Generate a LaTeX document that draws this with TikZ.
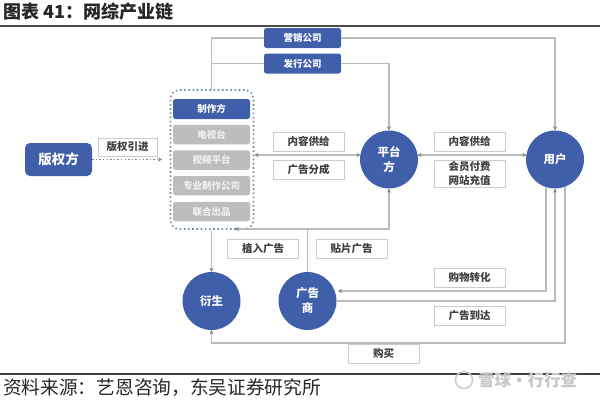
\documentclass[tikz,border=0pt]{standalone}
\usepackage{fontspec}
\setmainfont{Noto Sans CJK SC}
\usetikzlibrary{arrows.meta}
\definecolor{bluefill}{HTML}{3F5FAA}
\definecolor{greyfill}{HTML}{BDBDBD}
\definecolor{linegrey}{HTML}{BBBBBB}
\definecolor{labeledge}{HTML}{CCCCCC}
\definecolor{dotblue}{HTML}{6F8FA8}
\definecolor{ink}{HTML}{404040}
\tikzset{
  box/.style={rectangle,minimum width=#1,inner sep=0pt,rounded corners=2.5pt,font=\fontsize{9.5}{11}\selectfont\bfseries,text=white},
  bluebox/.style={box=77pt,fill=bluefill,minimum height=20pt},
  greybox/.style={box=77pt,fill=greyfill,minimum height=19.5pt,text=white!94!black},
  roundnode/.style={circle,fill=bluefill,minimum size=58pt,inner sep=0pt,text=white,align=center,font=\fontsize{11.5}{15}\selectfont\bfseries},
  lab/.style={rectangle,draw=labeledge,line width=0.9pt,fill=white,minimum width=71pt,minimum height=19pt,inner sep=0pt,align=center,text=ink,font=\fontsize{10.5}{13.3}\selectfont\bfseries},
  conn/.style={draw=linegrey,line width=1.3pt},
  tip/.style={-{Stealth[length=4pt,width=4pt,color=gray]}},
  biptip/.style={{Stealth[length=4pt,width=4pt,color=gray]}-{Stealth[length=4pt,width=4pt,color=gray]}},
  caption/.style={inner sep=0pt,anchor=west,text=black!85}
}
\begin{document}
\begin{tikzpicture}[x=1pt,y=-1pt]
\useasboundingbox (0,0) rectangle (600,400);
% rules
\coordinate (tl) at (0,26); \coordinate (tr) at (600,26);
\coordinate (bl) at (0,374); \coordinate (br) at (600,374);
\draw[line width=1.3pt,black!70] (tl) -- (tr);
\draw[line width=1.1pt,black!75] (bl) -- (br);
\node[caption,font=\fontsize{18}{20}\selectfont\bfseries] (title) at (3,12) {图表 41：网综产业链};
\node[caption,font=\fontsize{18.7}{20}\selectfont] (source) at (3,388) {资料来源：艺恩咨询，东吴证券研究所};
\node[circle,draw=black!20,line width=1.5pt,minimum size=17pt,inner sep=0pt] (logo) at (464,380) {};
\node[caption,text=black!22,font=\fontsize{16.5}{18}\selectfont\bfseries] (mark) at (478,380) {雪球·行行查};
% container
\node[rectangle,draw=dotblue,line width=1.6pt,dash pattern=on 1.6pt off 2.6pt,rounded corners=9pt,minimum width=83pt,minimum height=139pt,inner sep=0pt] (group) at (212,159.5) {};
\node[bluebox] (maker) at (211.5,109) {制作方};
\node[greybox] (tv) at (211.5,134.5) {电视台};
\node[greybox] (video) at (211.5,160) {视频平台};
\node[greybox] (pro) at (211.5,185.5) {专业制作公司};
\node[greybox] (joint) at (211.5,211.5) {联合出品};
% top boxes
\node[bluebox] (market) at (302.5,38) {营销公司};
\node[bluebox] (issue) at (302.5,63.5) {发行公司};
% main nodes
\node[rectangle,fill=bluefill,minimum width=67pt,minimum height=33pt,rounded corners=5pt,inner sep=0pt,text=white,font=\fontsize{13.5}{15}\selectfont\bfseries] (rights) at (58.5,159.5) {版权方};
\node[roundnode] (platform) at (389,159.5) {平台\\方};
\node[roundnode] (user) at (555,159.5) {用户};
\node[roundnode] (deriv) at (211.5,301) {衍生};
\node[roundnode] (adv) at (307.5,301) {广告\\商};
% connectors
\coordinate (rightsend) at (162,159.5);
\draw[draw=dotblue,line width=1.4pt,dash pattern=on 1.4pt off 2.2pt,tip] (rights.east) -- (rightsend);
\coordinate (trunk) at (211.5,90);
\draw[conn] (trunk) |- (market.west);
\draw[conn] (trunk |- issue.west) -- (issue.west);
\draw[conn,tip] (market.east) -| (user.north);
\draw[conn,tip] (issue.east) -| (platform.north);
\coordinate (gr) at (254.5,155);
\coordinate (pl) at (360.5,155);
\coordinate (pr) at (417.5,155);
\coordinate (ul) at (526.5,155);
\draw[conn,biptip] (gr) -- (pl);
\draw[conn,biptip] (pr) -- (ul);
\draw[conn,tip] (group.south -| deriv) -- (deriv.north);
\coordinate (gb) at (235,229);
\draw[conn,biptip] (gb) -| (platform.south);
\coordinate (advup) at (adv.north |- gb);
\draw[conn] (adv.north) -- (advup);
\coordinate (buyend) at (338,291);
\coordinate (ua) at (546,187);
\coordinate (uc) at (565,187);
\draw[conn,{Stealth[length=4pt,width=4pt,color=gray]}-] (buyend) -| (ua);
\draw[conn,tip] (adv.east) -| (user.south);
\coordinate (buybottom) at (565,343);
\draw[conn,tip] (uc) -- (buybottom) -| (deriv.south);
% labels
\node[lab,minimum width=59pt,minimum height=18pt] (l1) at (127.5,147) {版权引进};
\node[lab] (l2) at (308.5,141.5) {内容供给};
\node[lab] (l3) at (308.5,169.5) {广告分成};
\node[lab] (l4) at (469.5,141.5) {内容供给};
\node[lab,minimum height=27pt] (l5) at (469.5,173.5) {会员付费\\网站充值};
\node[lab] (l6) at (263,248.5) {植入广告};
\node[lab] (l7) at (351.5,248.5) {贴片广告};
\node[lab] (l8) at (469.5,278) {购物转化};
\node[lab] (l9) at (469.5,315.5) {广告到达};
\node[lab] (l10) at (383.5,354) {购买};
\end{tikzpicture}
\end{document}
